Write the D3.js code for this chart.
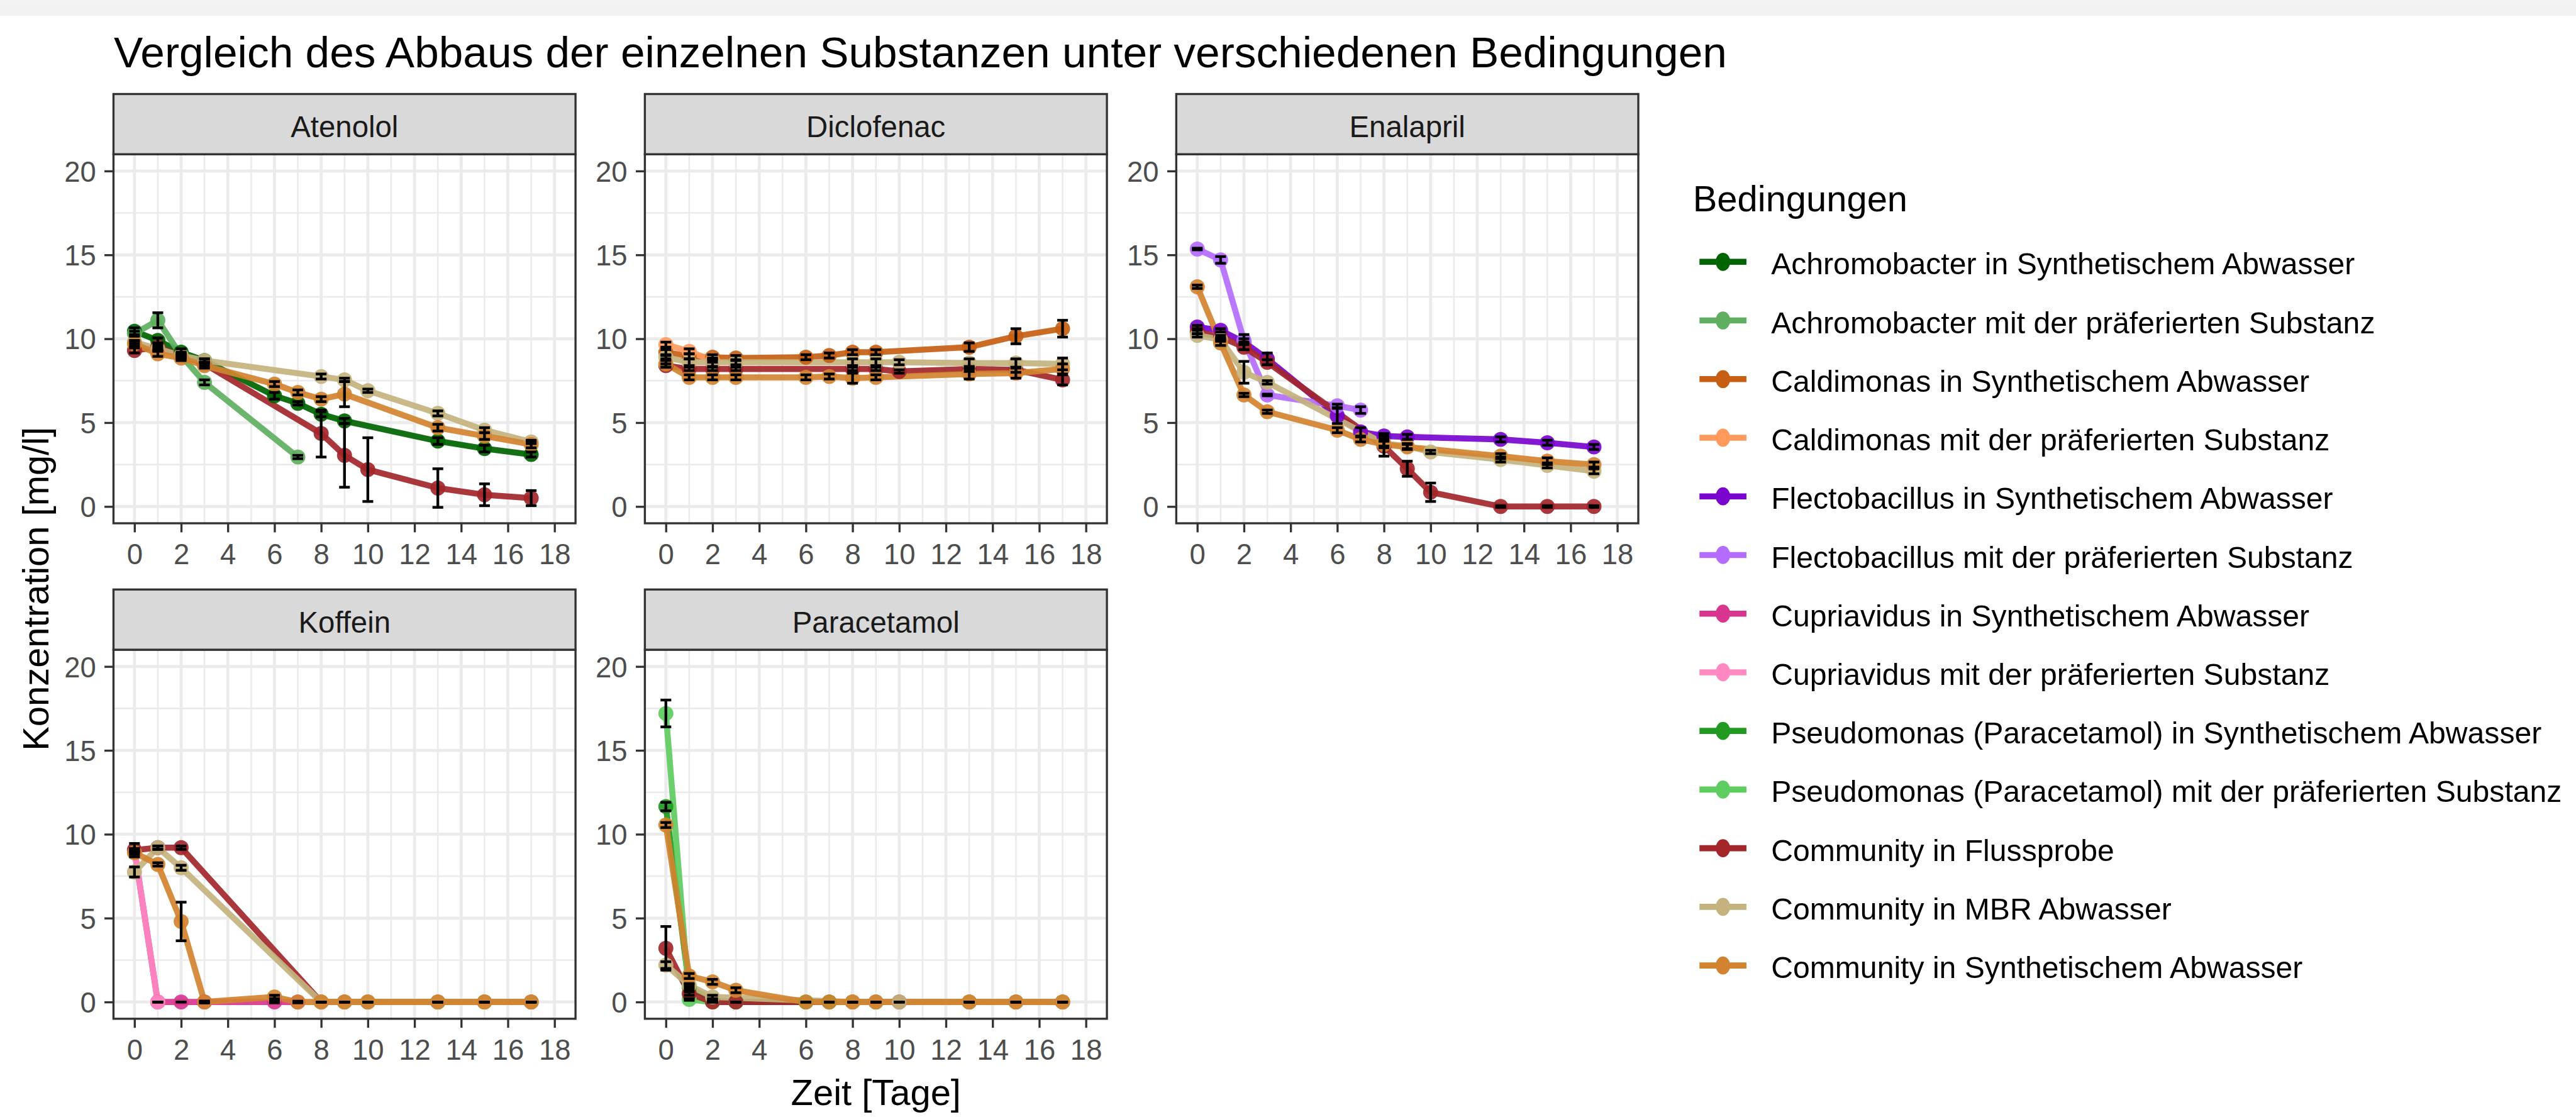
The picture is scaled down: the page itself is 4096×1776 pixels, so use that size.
<!DOCTYPE html>
<html><head><meta charset="utf-8">
<script src="https://cdn.jsdelivr.net/npm/d3@7"></script>
<style>body{margin:0;background:#fff;overflow:hidden;} svg{display:block;}</style>
</head><body>
<svg id="chart" width="4096" height="1776" viewBox="0 0 4279 1855"></svg>
<script>
// ---------------- data ----------------
const days = [0, 1, 2, 3, 6, 7, 8, 9, 10, 13, 15, 17];
const substances = ["Atenolol", "Diclofenac", "Enalapril", "Koffein", "Paracetamol"];
const conditions = [
  "Achromobacter in Synthetischem Abwasser",
  "Achromobacter mit der präferierten Substanz",
  "Caldimonas in Synthetischem Abwasser",
  "Caldimonas mit der präferierten Substanz",
  "Flectobacillus in Synthetischem Abwasser",
  "Flectobacillus mit der präferierten Substanz",
  "Cupriavidus in Synthetischem Abwasser",
  "Cupriavidus mit der präferierten Substanz",
  "Pseudomonas (Paracetamol) in Synthetischem Abwasser",
  "Pseudomonas (Paracetamol) mit der präferierten Substanz",
  "Community in Flussprobe",
  "Community in MBR Abwasser",
  "Community in Synthetischem Abwasser"
];
const colors = ["#006400", "#60AF60", "#C65F13", "#FF9A5E", "#7A05CF", "#B46CFF",
                "#D8368E", "#FF88C2", "#229A22", "#5ECC5E", "#A3262A", "#C4B37E", "#D2832F"];
const xTicks = [0, 2, 4, 6, 8, 10, 12, 14, 16, 18];
const yTicks = [0, 5, 10, 15, 20];
const N = null;

// each row: [condition index, means per day, sd per day]
const atenolol = [
  [0, [10.45, 9.9, 9.2, 8.7, 6.6, 6.15, 5.5, 5.1, N, 3.9, 3.45, 3.1], [0.2, 0.15, 0.2, 0.1, 0.2, 0.1, 0.15, 0.15, N, 0.2, 0.2, 0.15]],
  [1, [10.3, 11.1, 9.0, 7.4, N, 2.95, N, N, N, N, N, N], [0.15, 0.45, 0.2, 0.15, N, 0.1, N, N, N, N, N, N]],
  [10, [9.3, 9.5, 9.0, 8.5, N, N, 4.35, 3.05, 2.2, 1.1, 0.7, 0.5], [0.15, 0.15, 0.15, 0.1, N, N, 1.4, 1.9, 1.9, 1.15, 0.65, 0.45]],
  [11, [9.8, 9.4, 9.0, 8.7, N, N, 7.75, 7.55, 6.9, 5.55, 4.55, 3.85], [0.1, 0.1, 0.1, 0.1, N, N, 0.15, 0.1, 0.1, 0.15, 0.15, 0.1]],
  [12, [9.7, 9.1, 8.85, 8.4, 7.3, 6.8, 6.4, 6.7, N, 4.7, 4.2, 3.7], [0.15, 0.15, 0.15, 0.15, 0.15, 0.15, 0.15, 0.75, N, 0.2, 0.2, 0.2]]
];
const diclofenac = [
  [2, [9.2, 8.95, 8.9, 8.85, 8.9, 9.0, 9.2, 9.2, N, 9.5, 10.15, 10.6], [0.15, 0.15, 0.15, 0.15, 0.15, 0.15, 0.15, 0.15, N, 0.25, 0.45, 0.5]],
  [3, [9.65, 9.25, 8.7, N, N, N, N, N, N, N, N, N], [0.15, 0.15, 0.1, N, N, N, N, N, N, N, N, N]],
  [10, [8.4, 8.2, 8.2, 8.2, N, N, 8.2, 8.2, 8.05, 8.2, 8.15, 7.55], [0.1, 0.1, 0.1, 0.1, N, N, 0.1, 0.1, 0.1, 0.15, 0.15, 0.3]],
  [11, [8.9, 8.6, 8.6, 8.6, N, N, 8.6, 8.6, 8.6, 8.55, 8.55, 8.5], [0.1, 0.2, 0.25, 0.15, N, N, 0.2, 0.2, 0.15, 0.25, 0.25, 0.35]],
  [12, [8.5, 7.7, 7.7, 7.7, 7.7, 7.75, 7.65, 7.7, N, 7.9, 7.95, 8.2], [0.2, 0.15, 0.15, 0.15, 0.15, 0.15, 0.3, 0.15, N, 0.3, 0.3, 0.3]]
];
const enalapril = [
  [4, [10.7, 10.5, 9.8, 8.8, 5.4, 4.45, 4.2, 4.15, N, 4.0, 3.8, 3.55], [0.1, 0.1, 0.45, 0.35, 0.45, 0.25, 0.15, 0.15, N, 0.15, 0.15, 0.15]],
  [5, [15.35, 14.7, 9.9, 6.65, 6.0, 5.75, N, N, N, N, N, N], [0.05, 0.2, 0.1, 0.05, 0.1, 0.2, N, N, N, N, N, N]],
  [10, [10.4, 10.1, 9.5, 8.6, N, N, 3.6, 2.25, 0.85, 0, 0, 0], [0.1, 0.1, 0.15, 0.15, N, N, 0.6, 0.45, 0.55, 0.05, 0.05, 0.05]],
  [11, [10.2, 9.95, 8.0, 7.4, N, N, 3.75, 3.6, 3.25, 2.8, 2.45, 2.1], [0.1, 0.1, 0.65, 0.1, N, N, 0.15, 0.15, 0.1, 0.15, 0.15, 0.15]],
  [12, [13.1, 9.75, 6.65, 5.65, 4.55, 4.0, 3.7, 3.55, N, 3.0, 2.7, 2.5], [0.1, 0.15, 0.1, 0.1, 0.15, 0.15, 0.2, 0.15, N, 0.15, 0.2, 0.15]]
];
const koffein = [
  [6, [9.05, 0, 0, 0, 0, 0, N, N, N, N, N, N], [0.1, 0, 0, 0.05, 0.05, 0.05, N, N, N, N, N, N]],
  [7, [9.05, 0, N, N, N, N, N, N, N, N, N, N], [0.4, 0, N, N, N, N, N, N, N, N, N, N]],
  [10, [9.05, 9.2, 9.2, N, N, N, 0, 0, 0, 0, 0, 0], [0.1, 0.1, 0.1, N, N, N, 0, 0, 0, 0, 0, 0]],
  [11, [7.75, 9.2, 8.0, N, N, N, 0, 0, 0, 0, 0, 0], [0.3, 0.1, 0.15, N, N, N, 0, 0, 0, 0, 0, 0]],
  [12, [8.9, 8.2, 4.8, 0, 0.3, 0, 0, 0, 0, 0, 0, 0], [0.1, 0.1, 1.15, 0.05, 0.1, 0, 0, 0, 0, 0, 0, 0]]
];
const paracetamol = [
  [8, [11.65, 0.9, 0.1, 0, 0, 0, N, N, N, N, N, N], [0.25, 0.15, 0.05, 0, 0, 0, N, N, N, N, N, N]],
  [9, [17.2, 0.15, 0, 0, N, N, N, N, N, N, N, N], [0.8, 0.05, 0, 0, N, N, N, N, N, N, N, N]],
  [10, [3.2, 0.5, 0, 0, N, N, 0, 0, 0, 0, 0, 0], [1.3, 0.1, 0, 0, N, N, 0, 0, 0, 0, 0, 0]],
  [11, [2.2, 1.0, 0.3, N, N, N, 0, 0, 0, 0, 0, 0], [0.2, 0.1, 0.1, N, N, N, 0, 0, 0, 0, 0, 0]],
  [12, [10.55, 1.55, 1.2, 0.7, 0, 0, 0, 0, N, 0, 0, 0], [0.15, 0.15, 0.15, 0.15, 0, 0, 0, 0, N, 0, 0, 0]]
];
const panelData = [atenolol, diclofenac, enalapril, koffein, paracetamol];

// ---------------- layout ----------------
const W = 4279, H = 1855;
const FONT = "'Liberation Sans', Arial, sans-serif";
const pw = 767.5, ph = 613, stripH = 100;
const colLeft = [188.5, 1071.2, 1953.9];
const rowTop = [156, 979];
const lineW = 10, ptR = 12.5, ebW = 4.5, capHalf = 0.23;

const svg = d3.select("#chart");
svg.append("rect").attr("width", W).attr("height", H).attr("fill", "#ffffff");
svg.append("rect").attr("width", W).attr("height", 26).attr("fill", "#f2f2f2");

// title
svg.append("text").attr("x", 189).attr("y", 112)
  .attr("font-family", FONT).attr("font-size", 72.5).attr("fill", "#000")
  .text("Vergleich des Abbaus der einzelnen Substanzen unter verschiedenen Bedingungen");

substances.forEach((name, k) => {
  const col = k % 3, row = Math.floor(k / 3);
  const left = colLeft[col], sTop = rowTop[row], top = sTop + stripH;
  const x = d3.scaleLinear().domain([-0.9, 18.9]).range([left, left + pw]);
  const y = d3.scaleLinear().domain([-1, 21]).range([top + ph, top]);
  const g = svg.append("g");

  // grid
  const xMinor = d3.range(1, 18, 2), yMinor = [2.5, 7.5, 12.5, 17.5];
  g.selectAll(null).data(xMinor).join("line")
    .attr("x1", d => x(d)).attr("x2", d => x(d)).attr("y1", top).attr("y2", top + ph)
    .attr("stroke", "#EBEBEB").attr("stroke-width", 2.7);
  g.selectAll(null).data(yMinor).join("line")
    .attr("y1", d => y(d)).attr("y2", d => y(d)).attr("x1", left).attr("x2", left + pw)
    .attr("stroke", "#EBEBEB").attr("stroke-width", 2.7);
  g.selectAll(null).data(xTicks).join("line")
    .attr("x1", d => x(d)).attr("x2", d => x(d)).attr("y1", top).attr("y2", top + ph)
    .attr("stroke", "#EBEBEB").attr("stroke-width", 5);
  g.selectAll(null).data(yTicks).join("line")
    .attr("y1", d => y(d)).attr("y2", d => y(d)).attr("x1", left).attr("x2", left + pw)
    .attr("stroke", "#EBEBEB").attr("stroke-width", 5);

  // series
  const series = panelData[k].map(([c, m, s]) => ({
    c, pts: days.map((d, i) => ({ d, m: m[i], s: s[i] })).filter(p => p.m !== null)
  }));
  const line = d3.line().x(p => x(p.d)).y(p => y(p.m));
  g.selectAll(null).data(series).join("path")
    .attr("d", sr => line(sr.pts)).attr("fill", "none")
    .attr("stroke", sr => colors[sr.c]).attr("stroke-width", lineW)
    .attr("stroke-linejoin", "round").attr("opacity", 0.92);
  series.forEach(sr => {
    g.selectAll(null).data(sr.pts).join("circle")
      .attr("cx", p => x(p.d)).attr("cy", p => y(p.m)).attr("r", ptR)
      .attr("fill", colors[sr.c]).attr("opacity", 0.92);
  });
  series.forEach(sr => {
    const eb = sr.pts.filter(p => p.s !== null);
    const ge = g.append("g").attr("stroke", "#000").attr("stroke-width", ebW);
    ge.selectAll(null).data(eb).join("line")
      .attr("x1", p => x(p.d)).attr("x2", p => x(p.d))
      .attr("y1", p => y(p.m - p.s)).attr("y2", p => y(p.m + p.s));
    ge.selectAll(null).data(eb).join("line")
      .attr("x1", p => x(p.d - capHalf)).attr("x2", p => x(p.d + capHalf))
      .attr("y1", p => y(p.m - p.s)).attr("y2", p => y(p.m - p.s));
    ge.selectAll(null).data(eb).join("line")
      .attr("x1", p => x(p.d - capHalf)).attr("x2", p => x(p.d + capHalf))
      .attr("y1", p => y(p.m + p.s)).attr("y2", p => y(p.m + p.s));
  });

  // panel border
  g.append("rect").attr("x", left).attr("y", top).attr("width", pw).attr("height", ph)
    .attr("fill", "none").attr("stroke", "#333333").attr("stroke-width", 3.5);
  // strip
  g.append("rect").attr("x", left).attr("y", sTop).attr("width", pw).attr("height", stripH)
    .attr("fill", "#D9D9D9").attr("stroke", "#333333").attr("stroke-width", 3.5);
  g.append("text").attr("x", left + pw / 2).attr("y", sTop + 72)
    .attr("text-anchor", "middle").attr("font-family", FONT).attr("font-size", 49.5)
    .attr("fill", "#1A1A1A").text(name);

  // axes
  const ax = g.append("g").attr("transform", `translate(0,${top + ph})`)
    .call(d3.axisBottom(x).tickValues(xTicks).tickSize(15).tickPadding(19.5).tickFormat(d3.format("d")));
  const ay = g.append("g").attr("transform", `translate(${left},0)`)
    .call(d3.axisLeft(y).tickValues(yTicks).tickSize(15).tickPadding(14).tickFormat(d3.format("d")));
  [ax, ay].forEach(a => {
    a.select(".domain").remove();
    a.selectAll(".tick line").attr("stroke", "#333333").attr("stroke-width", 3.5);
    a.selectAll(".tick text").attr("font-family", FONT).attr("font-size", 47.5).attr("fill", "#4D4D4D");
  });
  ay.selectAll(".tick text").attr("dy", "0.36em");
});

// axis titles
svg.append("text").attr("x", 1455).attr("y", 1835).attr("text-anchor", "middle")
  .attr("font-family", FONT).attr("font-size", 60.5).attr("fill", "#000").text("Zeit [Tage]");
svg.append("text").attr("transform", "translate(80,978) rotate(-90)").attr("text-anchor", "middle")
  .attr("font-family", FONT).attr("font-size", 60.5).attr("fill", "#000").text("Konzentration [mg/l]");

// legend
const leg = svg.append("g");
leg.append("text").attr("x", 2812).attr("y", 351).attr("font-family", FONT)
  .attr("font-size", 60.5).attr("fill", "#000").text("Bedingungen");
const legY = i => 434.7 + i * 97.4;
conditions.forEach((c, i) => {
  leg.append("line").attr("x1", 2823).attr("x2", 2901).attr("y1", legY(i)).attr("y2", legY(i))
    .attr("stroke", colors[i]).attr("stroke-width", lineW);
  leg.append("ellipse").attr("cx", 2862).attr("cy", legY(i)).attr("rx", 12).attr("ry", 15)
    .attr("fill", colors[i]);
  leg.append("text").attr("x", 2942).attr("y", legY(i) + 21).attr("font-family", FONT)
    .attr("font-size", 50.3).attr("fill", "#000").text(c);
});
</script>
</body></html>
